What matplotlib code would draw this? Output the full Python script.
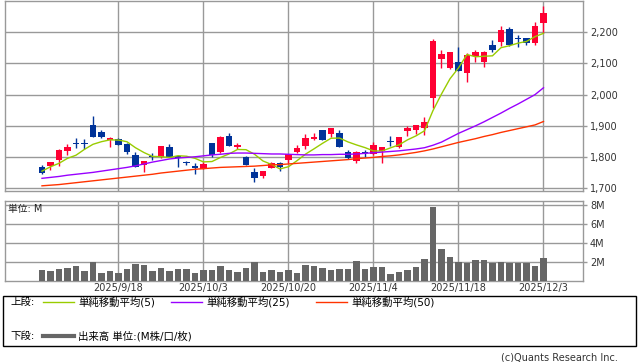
import matplotlib
matplotlib.use("Agg")
import matplotlib.pyplot as plt
from matplotlib.lines import Line2D
from matplotlib.patches import Rectangle
import numpy as np

plt.rcParams['font.family'] = ['DejaVu Sans', 'Noto Sans CJK JP']

# daily candles, 60 trading days ending 2025/12/3
opens = [1769, 1772, 1791, 1820, 1843, 1843, 1903, 1879, 1854, 1858,
         1842, 1807, 1775, 1801, 1801, 1831, 1803, 1781, 1767, 1763,
         1846, 1817, 1868, 1831, 1801, 1752, 1740, 1766, 1782, 1791,
         1817, 1836, 1858, 1887, 1874, 1878, 1817, 1788, 1813, 1809,
         1820, 1850, 1833, 1885, 1887, 1894, 1990, 2114, 2085, 2104,
         2069, 2124, 2106, 2159, 2170, 2211, 2179, 2181, 2165, 2229]
highs = [1775, 1785, 1826, 1841, 1862, 1859, 1932, 1887, 1863, 1862,
         1846, 1817, 1789, 1812, 1836, 1842, 1804, 1787, 1782, 1784,
         1846, 1868, 1876, 1844, 1804, 1764, 1755, 1785, 1785, 1811,
         1838, 1874, 1878, 1887, 1893, 1887, 1823, 1818, 1823, 1849,
         1832, 1868, 1865, 1900, 1903, 1930, 2178, 2143, 2137, 2152,
         2133, 2143, 2139, 2175, 2220, 2216, 2191, 2181, 2234, 2284]
lows = [1745, 1758, 1771, 1807, 1830, 1826, 1865, 1860, 1833, 1838,
        1809, 1768, 1751, 1791, 1796, 1801, 1769, 1775, 1745, 1761,
        1801, 1814, 1835, 1825, 1775, 1721, 1734, 1764, 1756, 1780,
        1814, 1825, 1855, 1855, 1865, 1833, 1793, 1782, 1801, 1808,
        1782, 1836, 1828, 1868, 1874, 1871, 1956, 2085, 2081, 2077,
        2042, 2106, 2090, 2138, 2156, 2157, 2153, 2159, 2159, 2199]
closes = [1748, 1784, 1823, 1833, 1842, 1842, 1865, 1865, 1862, 1839,
          1815, 1769, 1788, 1800, 1835, 1801, 1798, 1780, 1766, 1778,
          1807, 1863, 1836, 1838, 1775, 1734, 1755, 1780, 1767, 1810,
          1830, 1860, 1865, 1855, 1892, 1833, 1798, 1817, 1812, 1839,
          1831, 1849, 1865, 1892, 1903, 1912, 2173, 2130, 2136, 2077,
          2127, 2137, 2138, 2143, 2207, 2159, 2178, 2165, 2220, 2260]
volumes = [1.19, 1.08, 1.29, 1.43, 1.61, 1.08, 1.99, 0.87, 1.08, 0.87,
           1.29, 1.82, 1.71, 1.08, 1.40, 1.08, 1.29, 1.29, 0.87, 1.19,
           1.19, 1.61, 1.19, 0.98, 1.40, 1.99, 0.98, 1.19, 0.98, 1.19,
           0.87, 1.71, 1.61, 1.36, 1.15, 1.29, 1.29, 2.13, 1.29, 1.50,
           1.50, 0.77, 0.98, 1.15, 1.50, 2.34, 7.80, 3.39, 2.55, 2.03,
           1.92, 2.24, 2.24, 1.96, 2.03, 1.92, 1.92, 1.92, 1.61, 2.45]

# first four 5-day averages (need closes before the window)
sma5_head = [1755, 1769, 1780, 1796]
sma25 = [1732, 1735, 1738, 1742, 1745, 1748, 1751, 1755, 1759, 1763,
         1767, 1772, 1778, 1784, 1789, 1794, 1797, 1799, 1801, 1804,
         1807, 1809, 1812, 1813, 1813, 1812, 1811, 1810, 1810, 1809,
         1808, 1807, 1807, 1808, 1808, 1809, 1809, 1810, 1812, 1814,
         1816, 1818, 1820, 1823, 1826, 1830, 1838, 1848, 1862, 1876,
         1888, 1900, 1913, 1927, 1941, 1956, 1970, 1985, 2000, 2022]
sma50 = [1708, 1710, 1712, 1715, 1718, 1721, 1724, 1727, 1730, 1733,
         1736, 1739, 1742, 1745, 1749, 1752, 1755, 1758, 1761, 1763,
         1765, 1767, 1768, 1769, 1770, 1771, 1773, 1775, 1776, 1778,
         1780, 1782, 1784, 1786, 1788, 1790, 1792, 1795, 1797, 1799,
         1802, 1804, 1807, 1811, 1815, 1820, 1826, 1833, 1840, 1847,
         1853, 1859, 1866, 1872, 1879, 1885, 1891, 1897, 1903, 1914]

tick_idx = [9, 19, 29, 39, 49, 59]
tick_labels = ['2025/9/18', '2025/10/3', '2025/10/20', '2025/11/4', '2025/11/18', '2025/12/3']

o = np.array(opens)
h = np.array(highs)
l = np.array(lows)
c = np.array(closes)
x = np.arange(len(c))
sma5 = np.concatenate([sma5_head, np.convolve(c, np.ones(5) / 5, mode='valid')])

RED = '#ff0033'
BLUE = '#003399'
GRID = '#999999'
W, H = 638, 362


def fx(px):
    return px / W


def fy(py):
    return 1 - py / H


fig = plt.figure(figsize=(6.38, 3.62), dpi=100)
ax = fig.add_axes([fx(4.5), fy(190.5), fx(583) - fx(4.5), fy(1) - fy(190.5)])
axv = fig.add_axes([fx(4.5), fy(281.4), fx(583) - fx(4.5), fy(201) - fy(281.4)])

for a in (ax, axv):
    a.set_xlim(-4.41, 63.65)
    a.set_xticks(tick_idx)
    a.grid(True, color=GRID, linewidth=1.0)
    a.set_axisbelow(True)
    for s in a.spines.values():
        s.set_color(GRID)
        s.set_linewidth(1.0)
    a.yaxis.tick_right()
    a.tick_params(axis='y', colors=GRID, labelcolor='#333333', length=3,
                  width=1, pad=2, labelsize=7)
    a.tick_params(axis='x', length=0)

# candles
up = c > o
col = np.where(up, RED, BLUE)
ax.vlines(x, l, h, colors=col, linewidth=1.0, zorder=3)
bottom = np.minimum(o, c)
height = np.maximum(np.abs(c - o), 4)
ax.bar(x, height, bottom=bottom, width=0.72, color=col, linewidth=0, zorder=4)

ax.plot(x, sma5, color='#99cc00', linewidth=1.0, zorder=5)
ax.plot(x, sma25, color='#9900ff', linewidth=1.0, zorder=5)
ax.plot(x, sma50, color='#ff3300', linewidth=1.0, zorder=5)

ax.set_ylim(1693, 2300)
ax.set_yticks([1700, 1800, 1900, 2000, 2100, 2200])
ax.set_yticklabels(['1,700', '1,800', '1,900', '2,000', '2,100', '2,200'])
ax.set_xticklabels([])

# volume
axv.bar(x, volumes, width=0.72, color='#666666', linewidth=0, zorder=3)
axv.set_ylim(0, 8.42)
axv.set_yticks([2, 4, 6, 8])
axv.set_yticklabels(['2M', '4M', '6M', '8M'])
axv.set_xticklabels(tick_labels, fontsize=7, color='#333333')
axv.tick_params(axis='x', pad=1)
axv.text(0.006, 0.9, '単位: M', transform=axv.transAxes, fontsize=7,
         ha='left', va='center', color='#222222')

# legend box
fig.patches.append(Rectangle((fx(3), fy(346)), fx(636) - fx(3), fy(296) - fy(346),
                             transform=fig.transFigure, fill=False,
                             edgecolor='black', linewidth=1.0))
fs = 7.5
fig.text(fx(10), fy(302), '上段:', fontsize=fs, va='center', ha='left')
fig.text(fx(10), fy(336), '下段:', fontsize=fs, va='center', ha='left')
items = [('#99cc00', 43, '単純移動平均(5)'),
         ('#9900ff', 171, '単純移動平均(25)'),
         ('#ff3300', 316, '単純移動平均(50)')]
for color, x0, label in items:
    fig.lines.append(Line2D([fx(x0), fx(x0 + 31)], [fy(302), fy(302)],
                            transform=fig.transFigure, color=color, linewidth=1.0))
    fig.text(fx(x0 + 35), fy(302), label, fontsize=fs, va='center', ha='left')
fig.lines.append(Line2D([fx(43), fx(74)], [fy(336), fy(336)],
                        transform=fig.transFigure, color='#666666', linewidth=3.0))
fig.text(fx(78), fy(336), '出来高 単位:(M株/口/枚)', fontsize=fs, va='center', ha='left')

fig.text(fx(618), fy(357), '(c)Quants Research Inc.', fontsize=7, color='#333333',
         ha='right', va='center')

fig.savefig('out.png', dpi=100)
